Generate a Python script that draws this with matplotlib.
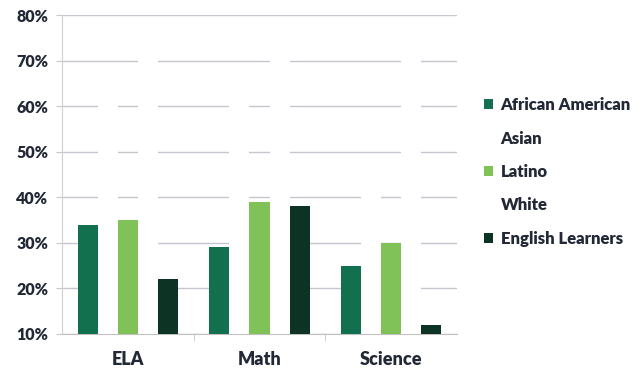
import matplotlib
matplotlib.use("Agg")
import matplotlib.pyplot as plt
import numpy as np
from matplotlib.patches import Patch

subjects = ["ELA", "Math", "Science"]
groups = ["African American", "Asian", "Latino", "White", "English Learners"]
african_american = [34, 29, 25]
asian = [65, 63, 45]
latino = [35, 39, 30]
white = [75, 72, 72]
english_learners = [22, 38, 12]
y_ticks = [10, 20, 30, 40, 50, 60, 70, 80]

series = [african_american, asian, latino, white, english_learners]
colors = ["#12704f", "#ffffff", "#80c257", "#ffffff", "#0d3325"]
text_color = "#232836"

plt.rcParams["font.family"] = ["Lato", "DejaVu Sans"]
plt.rcParams["font.weight"] = "bold"

fig = plt.figure(figsize=(6.42, 3.69), dpi=100)
ax = fig.add_axes([62 / 642, 1 - 334 / 369, (457 - 62) / 642, (334 - 15) / 369])

x = np.arange(len(subjects))
width = 0.152
for i, (vals, col) in enumerate(zip(series, colors)):
    ax.bar(x + (i - 2) * width, np.array(vals) / 100, width, color=col, zorder=3)

ax.set_xlim(-0.5, 2.5)
ax.set_ylim(0.10, 0.80)
ax.set_yticks([t / 100 for t in y_ticks])
ax.set_yticklabels([f"{t}%" for t in y_ticks], fontsize=11.5, fontweight="heavy", color=text_color)
ax.set_xticks(x)
ax.set_xticklabels(subjects, fontsize=13, fontweight="heavy", color=text_color)
ax.set_xticks([0.5, 1.5], minor=True)
ax.tick_params(axis="x", which="major", length=0, pad=12)
ax.tick_params(axis="x", which="minor", length=5, color="#c8c8c8")
ax.tick_params(axis="y", length=4, color="#c8c8c8", pad=6)
ax.grid(axis="y", color="#c6c6ce", linewidth=1, zorder=0)

for side in ["top", "right"]:
    ax.spines[side].set_visible(False)
ax.spines["left"].set_color("#d0d0d0")
ax.spines["bottom"].set_color("#c0c0c0")

handles = [Patch(facecolor=c, edgecolor="none") for c in colors]
fig.legend(handles, groups, loc="upper left", bbox_to_anchor=(469 / 642, 1 - 82 / 369),
           frameon=False, handlelength=0.55, handleheight=0.55,
           handletextpad=0.45, labelspacing=1.05, labelcolor=text_color,
           prop={"weight": "heavy", "size": 12})

fig.savefig("out.png", dpi=100)
